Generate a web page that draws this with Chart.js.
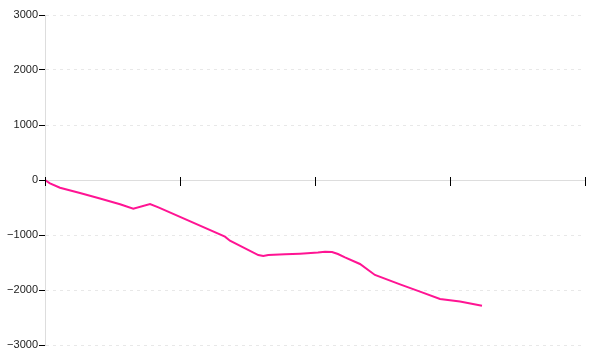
<!DOCTYPE html>
<html>
<head>
<meta charset="utf-8">
<script src="https://cdn.jsdelivr.net/npm/chart.js@4"></script>
<style>
  html, body { margin: 0; padding: 0; background: #fff; }
  #wrap { width: 600px; height: 360px; }
</style>
</head>
<body>
<div id="wrap"><canvas id="chart"></canvas></div>
<script>
// x positions (axis runs 0..4) and values
const xs = [0, 0.037, 0.111, 0.259, 0.407, 0.556, 0.654, 0.778, 0.840,
  1.333, 1.370, 1.580, 1.617, 1.654, 1.778, 1.889, 2.022, 2.074, 2.126, 2.170,
  2.222, 2.333, 2.444, 2.630, 2.778, 2.926, 3.074, 3.237];
const values = [0, -60, -140, -235, -335, -440, -521, -436, -497,
  -1030, -1103, -1364, -1382, -1364, -1352, -1339, -1320, -1303, -1310, -1345,
  -1406, -1527, -1727, -1897, -2030, -2164, -2210, -2285];
const yTicks = [-3000, -2000, -1000, 0, 1000, 2000, 3000];

const points = xs.map((x, i) => ({ x: x, y: values[i] }));

// x tick marks cross the zero line
const crossTicks = {
  id: 'crossTicks',
  afterDraw(chart) {
    const xScale = chart.scales.x, yScale = chart.scales.y;
    const y0 = Math.round(yScale.getPixelForValue(0));
    const ctx = chart.ctx;
    ctx.save();
    ctx.strokeStyle = '#000';
    ctx.lineWidth = 1;
    xScale.ticks.forEach((t, i) => {
      const px = Math.round(xScale.getPixelForTick(i)) + 0.5;
      ctx.beginPath();
      ctx.moveTo(px, y0 - 3);
      ctx.lineTo(px, y0 + 6);
      ctx.stroke();
    });
    ctx.restore();
  }
};

new Chart(document.getElementById('chart'), {
  type: 'line',
  data: {
    datasets: [{
      data: points,
      borderColor: '#ff1493',
      borderWidth: 2,
      pointRadius: 0,
      tension: 0,
      fill: false
    }]
  },
  options: {
    responsive: true,
    maintainAspectRatio: false,
    animation: false,
    layout: { padding: { top: 15, right: 15, bottom: 15, left: 0 } },
    plugins: { legend: { display: false }, tooltip: { enabled: false } },
    scales: {
      x: {
        type: 'linear',
        position: { y: 0 },
        min: 0,
        max: 4,
        ticks: { stepSize: 1, callback: () => '' },
        grid: { drawOnChartArea: false, drawTicks: false },
        border: { color: '#dddddd', width: 1 }
      },
      y: {
        min: yTicks[0],
        max: yTicks[yTicks.length - 1],
        afterBuildTicks: s => { s.ticks = yTicks.map(v => ({ value: v })); },
        afterFit: s => { s.width = 45; },
        ticks: {
          padding: 1,
          color: '#222',
          font: { family: 'Liberation Sans', size: 11 },
          callback: v => String(v).replace('-', '\u2212')
        },
        grid: {
          color: c => (c.tick && c.tick.value === 0) ? 'rgba(0,0,0,0)' : '#e8e8e8',
          tickColor: '#000',
          tickLength: 6
        },
        border: { color: '#dddddd', width: 1, dash: [3, 4] }
      }
    }
  },
  plugins: [crossTicks]
});
</script>
</body>
</html>
